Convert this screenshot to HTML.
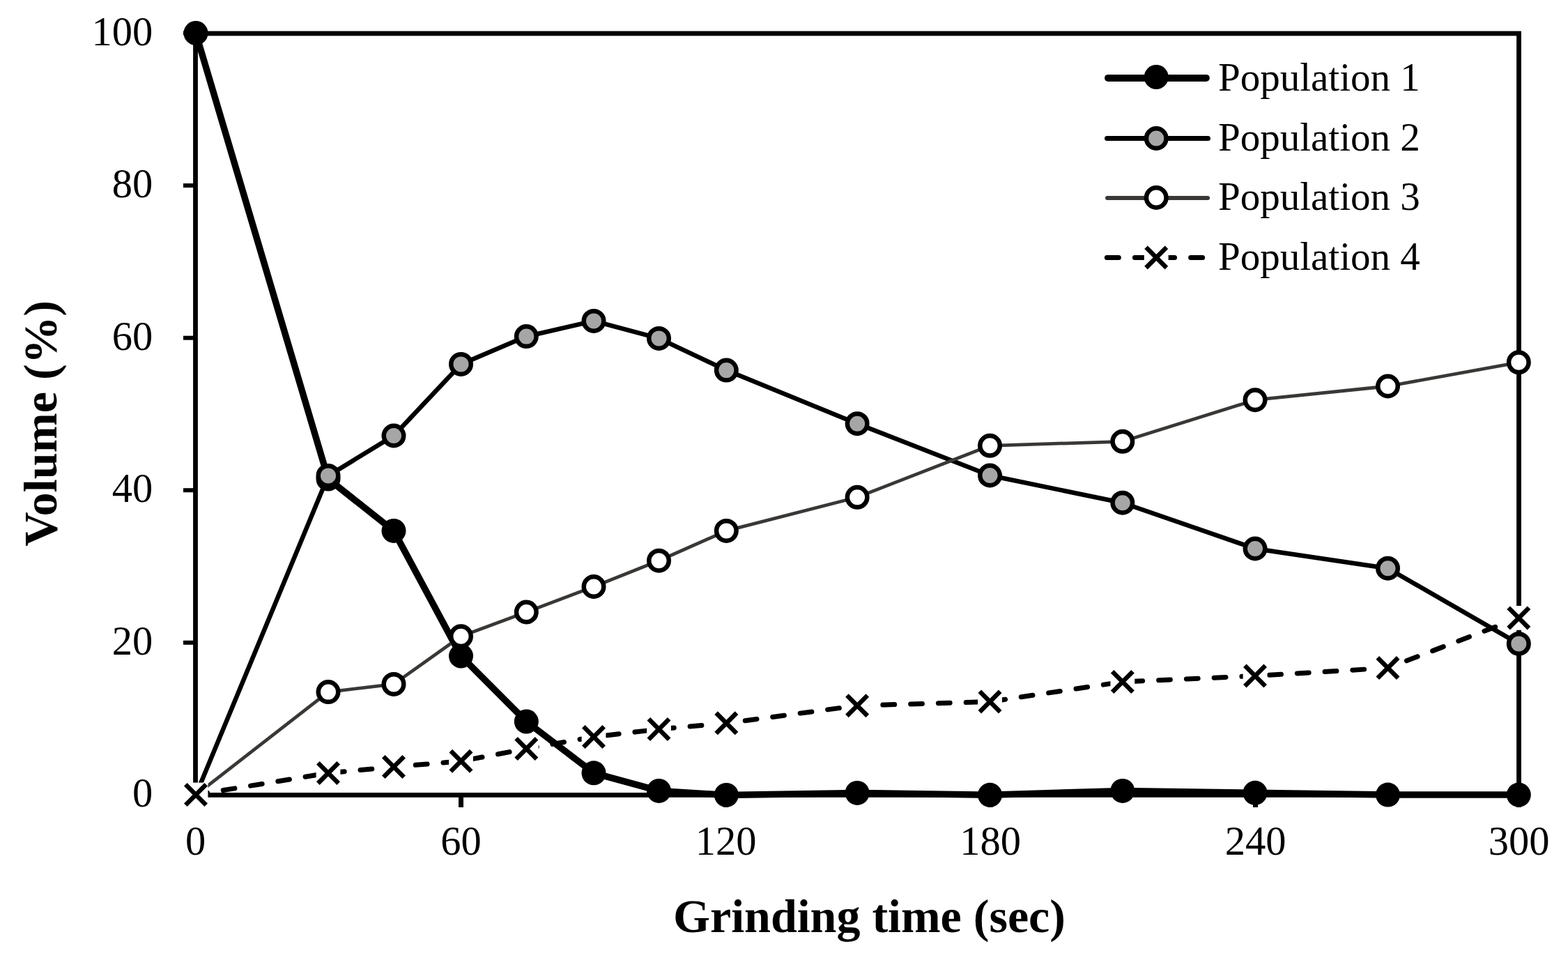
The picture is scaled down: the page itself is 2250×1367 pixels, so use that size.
<!DOCTYPE html>
<html><head><meta charset="utf-8"><title>Grinding time chart</title>
<style>
html,body{margin:0;padding:0;background:#fff;width:2250px;height:1367px;overflow:hidden}
svg{display:block}
text{font-family:"Liberation Serif","Times New Roman",serif;fill:#000}
</style></head><body>
<svg width="2250" height="1367" viewBox="0 0 2250 1367">
<rect width="2250" height="1367" fill="#fff"/>
<rect x="280.5" y="48" width="1899" height="1092.4" fill="none" stroke="#000" stroke-width="6.8"/>
<line x1="263" y1="921.8" x2="281" y2="921.8" stroke="#000" stroke-width="6"/>
<line x1="263" y1="703.2" x2="281" y2="703.2" stroke="#000" stroke-width="6"/>
<line x1="263" y1="484.7" x2="281" y2="484.7" stroke="#000" stroke-width="6"/>
<line x1="263" y1="266.1" x2="281" y2="266.1" stroke="#000" stroke-width="6"/>
<line x1="263" y1="47.5" x2="281" y2="47.5" stroke="#000" stroke-width="6"/>
<line x1="661.5" y1="1140.4" x2="661.5" y2="1158" stroke="#000" stroke-width="7"/>
<line x1="1041.5" y1="1140.4" x2="1041.5" y2="1158" stroke="#000" stroke-width="7"/>
<line x1="1421" y1="1140.4" x2="1421" y2="1158" stroke="#000" stroke-width="7"/>
<line x1="1801.5" y1="1140.4" x2="1801.5" y2="1158" stroke="#000" stroke-width="7"/>
<line x1="2179.5" y1="1140.4" x2="2179.5" y2="1158" stroke="#000" stroke-width="7"/>
<text x="219.3" y="1157.4" font-size="58.5" text-anchor="end">0</text>
<text x="219.3" y="938.8" font-size="58.5" text-anchor="end">20</text>
<text x="219.3" y="720.2" font-size="58.5" text-anchor="end">40</text>
<text x="219.3" y="501.7" font-size="58.5" text-anchor="end">60</text>
<text x="219.3" y="283.1" font-size="58.5" text-anchor="end">80</text>
<text x="219.3" y="64.5" font-size="58.5" text-anchor="end">100</text>
<text x="280.5" y="1225.8" font-size="58.5" text-anchor="middle">0</text>
<text x="661.5" y="1225.8" font-size="58.5" text-anchor="middle">60</text>
<text x="1041.5" y="1225.8" font-size="58.5" text-anchor="middle">120</text>
<text x="1421" y="1225.8" font-size="58.5" text-anchor="middle">180</text>
<text x="1801.5" y="1225.8" font-size="58.5" text-anchor="middle">240</text>
<text x="2179.5" y="1225.8" font-size="58.5" text-anchor="middle">300</text>
<text x="1247.5" y="1336.5" font-size="68" font-weight="bold" text-anchor="middle">Grinding time (sec)</text>
<text transform="translate(80.7,607.3) rotate(-90)" x="0" y="0" font-size="68.4" font-weight="bold" text-anchor="middle">Volume (%)</text>
<polyline points="281,47.5 471,687 565,761.4 661.5,941 755.3,1035 852,1108.8 945.5,1134.4 1042.3,1140.4 1230.1,1137.4 1420.5,1140.3 1610.8,1134.4 1801,1137.3 1991.5,1140.1 2179.3,1140.1" fill="none" stroke="#000" stroke-width="9.5" stroke-linejoin="round" stroke-linecap="round"/>
<circle cx="281" cy="47.5" r="17.5" fill="#000"/>
<circle cx="471" cy="687" r="17.5" fill="#000"/>
<circle cx="565" cy="761.4" r="17.5" fill="#000"/>
<circle cx="661.5" cy="941" r="17.5" fill="#000"/>
<circle cx="755.3" cy="1035" r="17.5" fill="#000"/>
<circle cx="852" cy="1108.8" r="17.5" fill="#000"/>
<circle cx="945.5" cy="1134.4" r="17.5" fill="#000"/>
<circle cx="1042.3" cy="1140.4" r="17.5" fill="#000"/>
<circle cx="1230.1" cy="1137.4" r="17.5" fill="#000"/>
<circle cx="1420.5" cy="1140.3" r="17.5" fill="#000"/>
<circle cx="1610.8" cy="1134.4" r="17.5" fill="#000"/>
<circle cx="1801" cy="1137.3" r="17.5" fill="#000"/>
<circle cx="1991.5" cy="1140.1" r="17.5" fill="#000"/>
<circle cx="2179.3" cy="1140.1" r="17.5" fill="#000"/>
<polyline points="281,1140.4 471,682.4 565,625 661.5,522.4 755.3,482.6 852,460.4 945.5,485.4 1042.3,531.1 1230.1,607.7 1420.5,682 1610.8,721.2 1801,787 1991.5,815.2 2179.3,923.4" fill="none" stroke="#000" stroke-width="6.5" stroke-linejoin="round" stroke-linecap="round"/>
<circle cx="471" cy="682.4" r="14.25" fill="#a6a6a6" stroke="#000" stroke-width="6.5"/>
<circle cx="565" cy="625" r="14.25" fill="#a6a6a6" stroke="#000" stroke-width="6.5"/>
<circle cx="661.5" cy="522.4" r="14.25" fill="#a6a6a6" stroke="#000" stroke-width="6.5"/>
<circle cx="755.3" cy="482.6" r="14.25" fill="#a6a6a6" stroke="#000" stroke-width="6.5"/>
<circle cx="852" cy="460.4" r="14.25" fill="#a6a6a6" stroke="#000" stroke-width="6.5"/>
<circle cx="945.5" cy="485.4" r="14.25" fill="#a6a6a6" stroke="#000" stroke-width="6.5"/>
<circle cx="1042.3" cy="531.1" r="14.25" fill="#a6a6a6" stroke="#000" stroke-width="6.5"/>
<circle cx="1230.1" cy="607.7" r="14.25" fill="#a6a6a6" stroke="#000" stroke-width="6.5"/>
<circle cx="1420.5" cy="682" r="14.25" fill="#a6a6a6" stroke="#000" stroke-width="6.5"/>
<circle cx="1610.8" cy="721.2" r="14.25" fill="#a6a6a6" stroke="#000" stroke-width="6.5"/>
<circle cx="1801" cy="787" r="14.25" fill="#a6a6a6" stroke="#000" stroke-width="6.5"/>
<circle cx="1991.5" cy="815.2" r="14.25" fill="#a6a6a6" stroke="#000" stroke-width="6.5"/>
<circle cx="2179.3" cy="923.4" r="14.25" fill="#a6a6a6" stroke="#000" stroke-width="6.5"/>
<polyline points="281,1140.4 471,992.6 565,981.4 661.5,912.8 755.3,878 852,841.5 945.5,804.2 1042.3,761.4 1230.1,713.3 1420.5,639.3 1610.8,633.3 1801,573.7 1991.5,554 2179.3,519.8" fill="none" stroke="#3a3836" stroke-width="4.8" stroke-linejoin="round" stroke-linecap="round"/>
<circle cx="471" cy="992.6" r="14.25" fill="#fff" stroke="#000" stroke-width="6.5"/>
<circle cx="565" cy="981.4" r="14.25" fill="#fff" stroke="#000" stroke-width="6.5"/>
<circle cx="661.5" cy="912.8" r="14.25" fill="#fff" stroke="#000" stroke-width="6.5"/>
<circle cx="755.3" cy="878" r="14.25" fill="#fff" stroke="#000" stroke-width="6.5"/>
<circle cx="852" cy="841.5" r="14.25" fill="#fff" stroke="#000" stroke-width="6.5"/>
<circle cx="945.5" cy="804.2" r="14.25" fill="#fff" stroke="#000" stroke-width="6.5"/>
<circle cx="1042.3" cy="761.4" r="14.25" fill="#fff" stroke="#000" stroke-width="6.5"/>
<circle cx="1230.1" cy="713.3" r="14.25" fill="#fff" stroke="#000" stroke-width="6.5"/>
<circle cx="1420.5" cy="639.3" r="14.25" fill="#fff" stroke="#000" stroke-width="6.5"/>
<circle cx="1610.8" cy="633.3" r="14.25" fill="#fff" stroke="#000" stroke-width="6.5"/>
<circle cx="1801" cy="573.7" r="14.25" fill="#fff" stroke="#000" stroke-width="6.5"/>
<circle cx="1991.5" cy="554" r="14.25" fill="#fff" stroke="#000" stroke-width="6.5"/>
<circle cx="2179.3" cy="519.8" r="14.25" fill="#fff" stroke="#000" stroke-width="6.5"/>
<polyline points="281,1140 471,1108.9 565,1100 661.5,1091.8 755.3,1074 852,1057 945.5,1046 1042.3,1037.3 1230.1,1012.2 1420.5,1006.5 1610.8,978 1801,969.5 1991.5,958.1 2179.3,886.4" fill="none" stroke="#000" stroke-width="7" stroke-dasharray="16.8 23" stroke-linejoin="round" stroke-linecap="round"/>
<rect x="263.6" y="1122.6" width="34.8" height="34.8" fill="#fff"/><path d="M266.3,1125.3L295.7,1154.7M266.3,1154.7L295.7,1125.3" stroke="#000" stroke-width="6.5" fill="none"/>
<rect x="453.6" y="1091.5" width="34.8" height="34.8" fill="#fff"/><path d="M456.3,1094.2L485.7,1123.6M456.3,1123.6L485.7,1094.2" stroke="#000" stroke-width="6.5" fill="none"/>
<rect x="547.6" y="1082.6" width="34.8" height="34.8" fill="#fff"/><path d="M550.3,1085.3L579.7,1114.7M550.3,1114.7L579.7,1085.3" stroke="#000" stroke-width="6.5" fill="none"/>
<rect x="644.1" y="1074.4" width="34.8" height="34.8" fill="#fff"/><path d="M646.8,1077.1L676.2,1106.5M646.8,1106.5L676.2,1077.1" stroke="#000" stroke-width="6.5" fill="none"/>
<rect x="737.9" y="1056.6" width="34.8" height="34.8" fill="#fff"/><path d="M740.6,1059.3L770.0,1088.7M740.6,1088.7L770.0,1059.3" stroke="#000" stroke-width="6.5" fill="none"/>
<rect x="834.6" y="1039.6" width="34.8" height="34.8" fill="#fff"/><path d="M837.3,1042.3L866.7,1071.7M837.3,1071.7L866.7,1042.3" stroke="#000" stroke-width="6.5" fill="none"/>
<rect x="928.1" y="1028.6" width="34.8" height="34.8" fill="#fff"/><path d="M930.8,1031.3L960.2,1060.7M930.8,1060.7L960.2,1031.3" stroke="#000" stroke-width="6.5" fill="none"/>
<rect x="1024.9" y="1019.9" width="34.8" height="34.8" fill="#fff"/><path d="M1027.6,1022.6L1057.0,1052.0M1027.6,1052.0L1057.0,1022.6" stroke="#000" stroke-width="6.5" fill="none"/>
<rect x="1212.7" y="994.8" width="34.8" height="34.8" fill="#fff"/><path d="M1215.4,997.5L1244.8,1026.9M1215.4,1026.9L1244.8,997.5" stroke="#000" stroke-width="6.5" fill="none"/>
<rect x="1403.1" y="989.1" width="34.8" height="34.8" fill="#fff"/><path d="M1405.8,991.8L1435.2,1021.2M1405.8,1021.2L1435.2,991.8" stroke="#000" stroke-width="6.5" fill="none"/>
<rect x="1593.4" y="960.6" width="34.8" height="34.8" fill="#fff"/><path d="M1596.1,963.3L1625.5,992.7M1596.1,992.7L1625.5,963.3" stroke="#000" stroke-width="6.5" fill="none"/>
<rect x="1783.6" y="952.1" width="34.8" height="34.8" fill="#fff"/><path d="M1786.3,954.8L1815.7,984.2M1786.3,984.2L1815.7,954.8" stroke="#000" stroke-width="6.5" fill="none"/>
<rect x="1974.1" y="940.7" width="34.8" height="34.8" fill="#fff"/><path d="M1976.8,943.4L2006.2,972.8M1976.8,972.8L2006.2,943.4" stroke="#000" stroke-width="6.5" fill="none"/>
<rect x="2161.9" y="869.0" width="34.8" height="34.8" fill="#fff"/><path d="M2164.6,871.7L2194.0,901.1M2164.6,901.1L2194.0,871.7" stroke="#000" stroke-width="6.5" fill="none"/>
<line x1="1590" y1="111.9" x2="1730.8" y2="111.9" stroke="#000" stroke-width="10" stroke-linecap="round"/>
<circle cx="1659.2" cy="110.5" r="17.5" fill="#000"/>
<line x1="1588.5" y1="198.5" x2="1733.4" y2="198.5" stroke="#000" stroke-width="7.1" stroke-linecap="round"/>
<circle cx="1659.2" cy="198.5" r="14.25" fill="#a6a6a6" stroke="#000" stroke-width="6.5"/>
<line x1="1589" y1="284" x2="1733" y2="284" stroke="#3a3836" stroke-width="6" stroke-linecap="round"/>
<circle cx="1659.2" cy="283.5" r="14.25" fill="#fff" stroke="#000" stroke-width="6.5"/>
<line x1="1588.3" y1="369.4" x2="1728" y2="369.4" stroke="#000" stroke-width="7" stroke-dasharray="17 23.1" stroke-linecap="round"/>
<rect x="1641.8" y="352.0" width="34.8" height="34.8" fill="#fff"/><path d="M1644.5,354.7L1673.9,384.1M1644.5,384.1L1673.9,354.7" stroke="#000" stroke-width="6.5" fill="none"/>
<text x="1748" y="129.8" font-size="57">Population 1</text>
<text x="1748" y="215.8" font-size="57">Population 2</text>
<text x="1748" y="301.4" font-size="57">Population 3</text>
<text x="1748" y="387.3" font-size="57">Population 4</text>
</svg></body></html>
